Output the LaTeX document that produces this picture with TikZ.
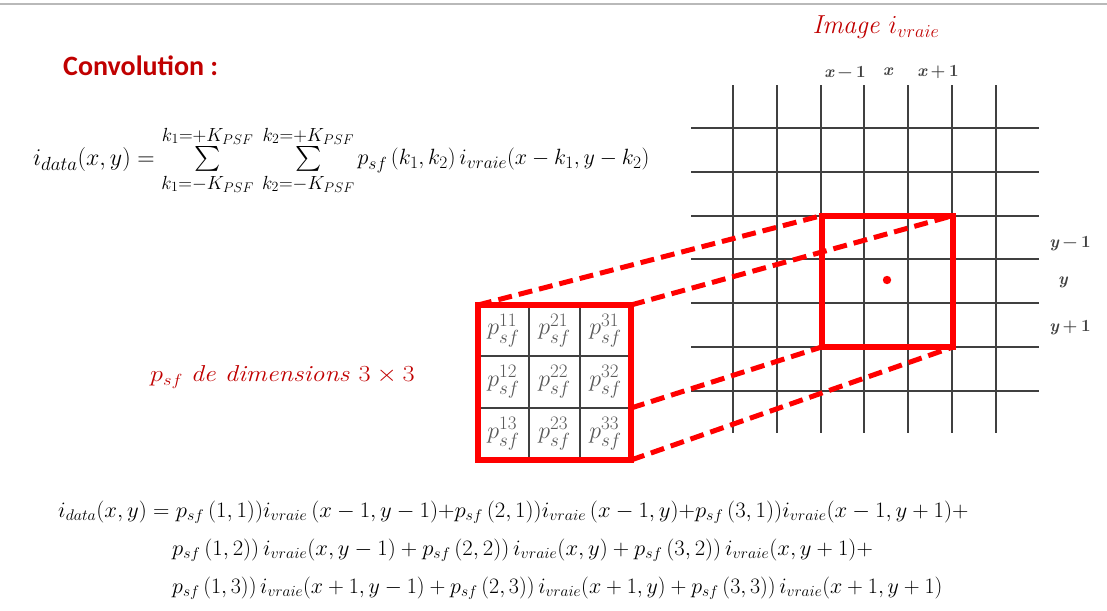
\RequirePackage{fix-cm}
\documentclass[tikz,border=0pt]{standalone}
\usepackage{amsmath}
\usepackage{fontspec}
\newfontfamily\calibri{Carlito}
\DeclareMathSizes{24}{24}{19}{14}
\definecolor{dred}{RGB}{192,0,0}
\definecolor{gline}{RGB}{64,64,64}
\definecolor{ctext}{RGB}{89,89,89}
\newcommand{\bx}[1]{{\bfseries\itshape #1}}
\newcommand{\lsp}{\hspace{0.22em}}
\begin{document}
\begin{tikzpicture}[x=1pt,y=-1pt,
  gridline/.style={gline, line width=2pt},
  redbox/.style={red, line width=6pt},
  reddash/.style={red, line width=5pt, dash pattern=on 14pt off 7pt},
  cellline/.style={gline, line width=1.5pt},
  axislabel/.style={gline, font=\fontsize{17}{19}\selectfont\bfseries, inner sep=0pt},
  celltext/.style={ctext, font=\fontsize{24}{28}\selectfont, inner sep=0pt},
  redlabel/.style={dred, inner sep=0pt},
  formula/.style={black, anchor=west, inner sep=0pt}
]
\useasboundingbox (0,0) rectangle (1107,610);
\draw[gray!55, line width=1.5pt] (0,4) -- (1107,4);

% titles
\node[redlabel, anchor=west, font=\calibri\bfseries\fontsize{28}{30}\selectfont] (conv) at (63,66) {Convolution :};
\node[redlabel, font=\fontsize{26}{29}\selectfont] (img) at (876,27) {\itshape Image $i_{vraie}$};
\node[redlabel, anchor=west, font=\fontsize{23}{26}\selectfont] (psflab) at (150,377) {\scalebox{1.14}[1]{$p_{sf}$ \itshape de dimensions \upshape $3\times 3$}};

% top formula
\node[formula, font=\fontsize{24}{28}\selectfont] (f0) at (33,160)
  {$i_{data}(x,y)=\sum\limits_{k_1=-K_{PSF}}^{k_1=+K_{PSF}}\,\sum\limits_{k_2=-K_{PSF}}^{k_2=+K_{PSF}}$\hspace{3pt}\raisebox{0.5pt}{\scalebox{0.92}{$p_{sf}\,(k_1,k_2)\,i_{vraie}(x-k_1,y-k_2)$}}};

% grid
\foreach \i in {0,...,6} {
  \draw[gridline] ({733+43.8*\i},85) -- ({733+43.8*\i},433);
  \draw[gridline] (691,{128+43.8*\i}) -- (1039,{128+43.8*\i});
}

% axis labels
\node[axislabel] (lxm) at (845,72) {\bx{x}\lsp−\lsp1};
\node[axislabel] (lx) at (888,72) {\bx{x}};
\node[axislabel] (lxp) at (938,72) {\bx{x}\lsp+\lsp1};
\node[axislabel] (lym) at (1070,244) {\bx{y}\lsp−\lsp1};
\node[axislabel] (ly) at (1063,282) {\bx{y}};
\node[axislabel] (lyp) at (1070,328) {\bx{y}\lsp+\lsp1};

% corners
\coordinate (BTL) at (821.6,215.6);
\coordinate (BTR) at (953,215.6);
\coordinate (BBL) at (821.6,347);
\coordinate (BBR) at (953,347);
\coordinate (STL) at (478,305);
\coordinate (STR) at (631,305);
\coordinate (SMR) at (631,408);
\coordinate (SBR) at (631,460);

% dashed projection lines
\draw[reddash] (STL) -- (BTL);
\draw[reddash] (STR) -- (BTR);
\draw[reddash] (SMR) -- (BBL);
\draw[reddash] (SBR) -- (BBR);

% big red window
\draw[redbox] (BTL) rectangle (BBR);
\fill[red] (887,280) circle (4.2);

% small psf matrix
\fill[white] (STL) rectangle (SBR);
\draw[cellline] (529,305) -- (529,460) (580,305) -- (580,460) (478,356) -- (631,356) (478,408) -- (631,408);
\node[celltext] (c11) at (503.5,330.5) {$p_{sf}^{11}$};
\node[celltext] (c21) at (554.5,330.5) {$p_{sf}^{21}$};
\node[celltext] (c31) at (605.5,330.5) {$p_{sf}^{31}$};
\node[celltext] (c12) at (503.5,382) {$p_{sf}^{12}$};
\node[celltext] (c22) at (554.5,382) {$p_{sf}^{22}$};
\node[celltext] (c32) at (605.5,382) {$p_{sf}^{32}$};
\node[celltext] (c13) at (503.5,434) {$p_{sf}^{13}$};
\node[celltext] (c23) at (554.5,434) {$p_{sf}^{23}$};
\node[celltext] (c33) at (605.5,434) {$p_{sf}^{33}$};
\draw[redbox] (STL) rectangle (SBR);

% bottom formulas
\node[formula, font=\fontsize{22}{26}\selectfont] (f1) at (58,512)
  {\scalebox{1.034}[1]{$i_{data}(x,y)=p_{sf}\,(1,1))i_{vraie}\,(x-1,y-1){+}p_{sf}\,(2,1))i_{vraie}\,(x-1,y){+}p_{sf}\,(3,1))i_{vraie}(x-1,y+1)+$}};
\node[formula, font=\fontsize{22}{26}\selectfont] (f2) at (172,550)
  {\scalebox{1.032}[1]{$p_{sf}\,(1,2))\,i_{vraie}(x,y-1)+p_{sf}\,(2,2))\,i_{vraie}(x,y)+p_{sf}\,(3,2))\,i_{vraie}(x,y+1)+$}};
\node[formula, font=\fontsize{22}{26}\selectfont] (f3) at (172,588)
  {$p_{sf}\,(1,3))\,i_{vraie}(x+1,y-1)+p_{sf}\,(2,3))\,i_{vraie}(x+1,y)+p_{sf}\,(3,3))\,i_{vraie}(x+1,y+1)$};
\end{tikzpicture}
\end{document}
